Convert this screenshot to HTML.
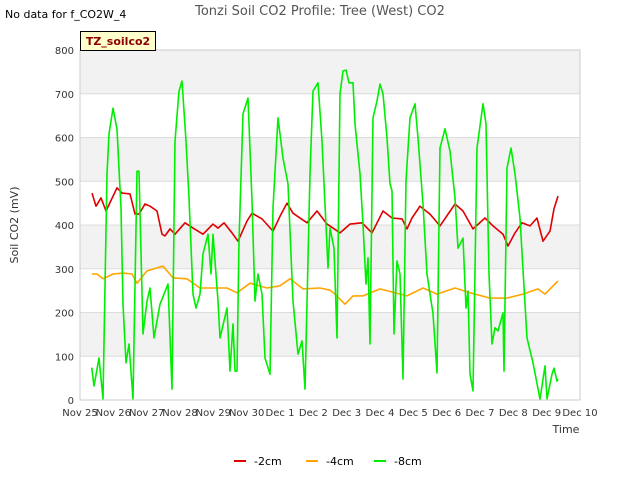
<!DOCTYPE html>
<html><head><meta charset="utf-8"><style>
body{margin:0;background:#fff;font-family:"Liberation Sans","DejaVu Sans",sans-serif;}
</style></head><body>
<svg id="chart" width="640" height="480" xmlns="http://www.w3.org/2000/svg" font-family="DejaVu Sans, Liberation Sans, sans-serif">
<rect width="640" height="480" fill="#fff"/>
<text x="5" y="18" font-size="11" fill="#000">No data for f_CO2W_4</text>
<text x="320" y="15" font-size="13" fill="#555" text-anchor="middle">Tonzi Soil CO2 Profile: Tree (West) CO2</text>
<g id="grid"></g>
<g id="series"></g>
<g id="axes"></g>
<g>
<rect x="80.5" y="31.5" width="75" height="19" fill="#ffffcc" stroke="#000"/>
<text x="118" y="45" font-size="11" font-weight="bold" fill="#8b0000" text-anchor="middle">TZ_soilco2</text>
</g>
<text transform="translate(18,225) rotate(-90)" font-size="11" fill="#333" text-anchor="middle">Soil CO2 (mV)</text>
<text x="566" y="433" font-size="11" fill="#333" text-anchor="middle">Time</text>
<g>
<g><line x1="234" y1="461" x2="246" y2="461" stroke="#e00000" stroke-width="2"/><text x="254" y="465" font-size="11" fill="#000">-2cm</text></g>
<g><line x1="306" y1="461" x2="318" y2="461" stroke="#ffa500" stroke-width="2"/><text x="326" y="465" font-size="11" fill="#000">-4cm</text></g>
<g><line x1="374" y1="461" x2="386" y2="461" stroke="#00ee00" stroke-width="2"/><text x="394" y="465" font-size="11" fill="#000">-8cm</text></g>
</g>
</svg>
<script>
const xTickLabels=["Nov 25","Nov 26","Nov 27","Nov 28","Nov 29","Nov 30","Dec 1","Dec 2","Dec 3","Dec 4","Dec 5","Dec 6","Dec 7","Dec 8","Dec 9","Dec 10"];
const yTicks=[0,100,200,300,400,500,600,700,800];
const redDays=[0.36,0.48,0.63,0.78,1.11,1.26,1.5,1.65,1.77,1.95,2.1,2.31,2.46,2.55,2.7,2.85,3.15,3.39,3.69,3.99,4.14,4.32,4.56,4.74,5.01,5.16,5.46,5.79,6.0,6.21,6.39,6.81,7.11,7.41,7.59,7.8,8.1,8.46,8.76,9.09,9.36,9.66,9.81,9.96,10.2,10.5,10.8,11.25,11.49,11.79,12.15,12.39,12.69,12.84,13.05,13.26,13.5,13.71,13.89,14.1,14.22,14.34];
const redVals=[473,443,462,432,485,473,471,425,425,448,443,432,379,375,391,379,405,393,379,402,393,405,382,363,409,427,414,386,420,450,427,405,432,402,393,382,402,405,382,432,416,414,391,416,443,425,398,448,432,391,416,398,379,352,382,405,398,416,363,386,437,466];
const orangeDays=[0.36,0.51,0.69,0.99,1.29,1.56,1.71,2.01,2.49,2.79,3.21,3.6,3.99,4.41,4.71,5.1,5.61,6.0,6.3,6.69,7.2,7.5,7.65,7.95,8.19,8.49,9.0,9.81,10.29,10.71,11.25,11.7,12.3,12.81,13.29,13.74,13.95,14.34];
const orangeVals=[288,288,277,288,290,288,267,295,306,279,277,256,256,256,245,267,256,261,277,254,256,251,242,219,238,238,254,238,256,242,256,245,233,233,242,254,242,272];
const greenDays=[0.35,0.42,0.57,0.69,0.81,0.87,0.99,1.11,1.23,1.29,1.38,1.47,1.59,1.71,1.77,1.89,2.01,2.1,2.22,2.4,2.64,2.76,2.85,2.97,3.06,3.18,3.27,3.39,3.48,3.6,3.69,3.84,3.93,3.99,4.14,4.2,4.41,4.5,4.59,4.65,4.71,4.77,4.89,5.04,5.16,5.25,5.34,5.46,5.55,5.7,5.79,5.94,6.09,6.24,6.39,6.54,6.66,6.75,6.9,6.99,7.14,7.26,7.44,7.5,7.62,7.71,7.8,7.89,7.98,8.07,8.19,8.25,8.4,8.49,8.58,8.64,8.7,8.79,8.91,9.0,9.09,9.21,9.3,9.36,9.42,9.51,9.6,9.69,9.78,9.9,10.05,10.14,10.29,10.41,10.59,10.71,10.8,10.95,11.1,11.25,11.34,11.49,11.58,11.64,11.7,11.79,11.91,12.09,12.18,12.27,12.36,12.45,12.54,12.69,12.72,12.81,12.93,13.05,13.2,13.41,13.59,13.8,13.95,14.01,14.16,14.22,14.31,14.34];
const greenVals=[74,32,96,2,517,608,667,619,439,219,85,128,2,523,523,151,226,256,142,219,265,25,592,706,729,592,462,242,210,242,334,379,288,379,226,142,210,66,174,66,66,363,654,690,455,226,288,242,96,59,439,645,553,494,226,105,135,25,517,706,725,592,302,393,347,142,700,752,754,725,725,631,517,402,265,325,128,645,684,722,700,599,494,478,151,318,288,48,501,645,677,599,448,288,197,62,576,620,569,462,347,370,210,249,59,21,576,677,631,288,128,165,158,199,66,530,576,517,416,142,85,2,78,2,59,73,43,48];

const X0=80,X1=580,Y0=400,Y1=50,XMAX=15,YMAX=800;
const xs=d=>X0+(X1-X0)*d/XMAX;
const ys=v=>Y0-(Y0-Y1)*v/YMAX;
const NS="http://www.w3.org/2000/svg";
function mk(tag,attrs,parent){const e=document.createElementNS(NS,tag);for(const k in attrs)e.setAttribute(k,attrs[k]);parent.appendChild(e);return e;}
const grid=document.getElementById('grid'),axes=document.getElementById('axes'),series=document.getElementById('series');
for(let i=0;i<yTicks.length-1;i++){
  const r=mk('rect',{x:X0,y:ys(yTicks[i+1]),width:X1-X0,height:ys(yTicks[i])-ys(yTicks[i+1]),fill:(i%2===1)?'#f2f2f2':'#ffffff'},grid);
  
  
}
yTicks.forEach(v=>{
  const l=mk('line',{x1:X0,x2:X1,y1:ys(v),y2:ys(v),stroke:'#dcdcdc','stroke-width':1},grid);
  
  
  const t=mk('text',{x:X0-6,y:ys(v)+4,'font-size':10,fill:'#333','text-anchor':'end'},axes);
  t.textContent=v;
  
  
});
const frame=mk('rect',{x:X0,y:Y1,width:X1-X0,height:Y0-Y1,fill:'none',stroke:'#cccccc'},axes);


xTickLabels.forEach((lab,i)=>{
  const t=mk('text',{x:xs(i),y:Y0+16,'font-size':10,fill:'#333','text-anchor':'middle'},axes);
  t.textContent=lab;
  
  
});
function drawLine(days,vals,color,name){
  const d=days.map((x,i)=>(i?'L':'M')+xs(x).toFixed(1)+','+ys(vals[i]).toFixed(1)).join(' ');
  const p=mk('path',{d:d,fill:'none',stroke:color,'stroke-width':1.6,'stroke-linejoin':'round'},series);
  
  
}
drawLine(orangeDays,orangeVals,'#ffa500','series-4cm');
drawLine(redDays,redVals,'#e00000','series-2cm');
drawLine(greenDays,greenVals,'#00ee00','series-8cm');
</script>
</body></html>
